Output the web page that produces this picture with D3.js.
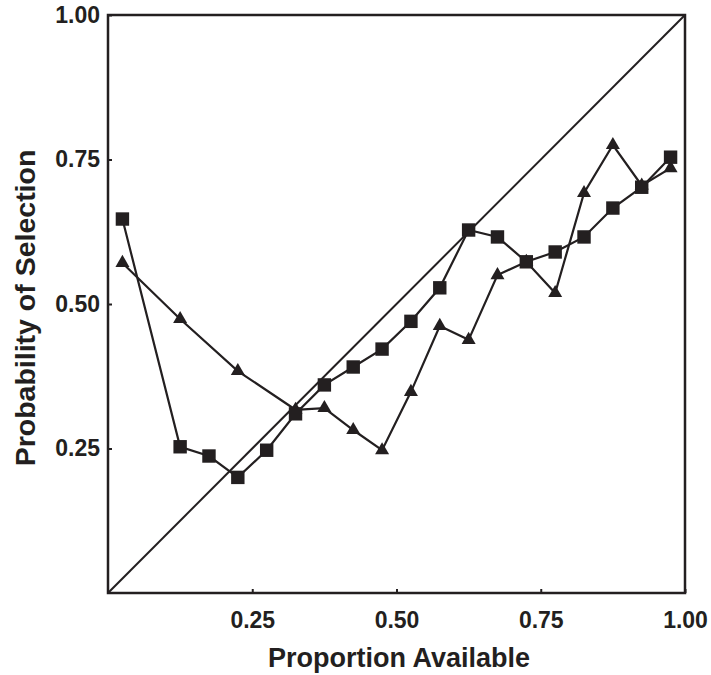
<!DOCTYPE html>
<html>
<head>
<meta charset="utf-8">
<script src="https://cdn.jsdelivr.net/npm/d3@7"></script>
<style>
  body { margin: 0; background: #fff; }
  text { font-family: "Liberation Sans", Arial, sans-serif; font-weight: bold; fill: #231f20; }
</style>
</head>
<body>
<div id="chart"></div>
<script>
// Data
const squareX = [0.025, 0.125, 0.175, 0.225, 0.275, 0.325, 0.375, 0.425, 0.475, 0.525,
                 0.575, 0.625, 0.675, 0.725, 0.775, 0.825, 0.875, 0.925, 0.975];
const squareY = [0.647, 0.253, 0.237, 0.200, 0.247, 0.310, 0.360, 0.391, 0.422, 0.470,
                 0.528, 0.628, 0.616, 0.573, 0.590, 0.616, 0.666, 0.702, 0.754];
const triX = [0.025, 0.125, 0.225, 0.325, 0.375, 0.425, 0.475, 0.525, 0.575, 0.625,
              0.675, 0.725, 0.775, 0.825, 0.875, 0.925, 0.975];
const triY = [0.571, 0.474, 0.384, 0.317, 0.320, 0.282, 0.247, 0.348, 0.462, 0.438,
              0.550, 0.573, 0.519, 0.692, 0.775, 0.705, 0.735];
const xTicks = [0.25, 0.50, 0.75, 1.00];
const yTicks = [0.25, 0.50, 0.75, 1.00];

const width = 711, height = 675;
const margin = { left: 108, right: 26, top: 15, bottom: 82 };
const ink = "#231f20";
const font = "'Liberation Sans', Arial, sans-serif";

const svg = d3.select("#chart").append("svg")
  .attr("width", width)
  .attr("height", height);

const x = d3.scaleLinear().domain([0, 1]).range([margin.left, width - margin.right]);
const y = d3.scaleLinear().domain([0, 1]).range([height - margin.bottom, margin.top]);

// frame
svg.append("rect")
  .attr("x", x(0)).attr("y", y(1))
  .attr("width", x(1) - x(0)).attr("height", y(0) - y(1))
  .attr("fill", "none").attr("stroke", ink).attr("stroke-width", 2.5);

// axes with small inward ticks
const xAxis = svg.append("g")
  .attr("transform", `translate(0,${y(0)})`)
  .call(d3.axisBottom(x).tickValues(xTicks).tickSize(-4).tickPadding(19).tickFormat(d3.format(".2f")));
xAxis.select(".domain").remove();
xAxis.selectAll("line").attr("stroke", ink).attr("stroke-width", 2);
xAxis.selectAll("text").attr("font-size", 23).attr("fill", ink)
  .style("font-family", font).style("font-weight", "bold");

const yAxis = svg.append("g")
  .attr("transform", `translate(${x(0)},0)`)
  .call(d3.axisLeft(y).tickValues(yTicks).tickSize(-4).tickPadding(8).tickFormat(d3.format(".2f")));
yAxis.select(".domain").remove();
yAxis.selectAll("line").attr("stroke", ink).attr("stroke-width", 2);
yAxis.selectAll("text").attr("font-size", 23).attr("fill", ink)
  .style("font-family", font).style("font-weight", "bold");

// 1:1 line
svg.append("line")
  .attr("x1", x(0)).attr("y1", y(0))
  .attr("x2", x(1)).attr("y2", y(1))
  .attr("stroke", ink).attr("stroke-width", 2);

const squares = squareX.map((d, i) => ({ x: d, y: squareY[i] }));
const tris = triX.map((d, i) => ({ x: d, y: triY[i] }));

const line = d3.line().x(d => x(d.x)).y(d => y(d.y));

svg.append("path").datum(tris)
  .attr("d", line).attr("fill", "none").attr("stroke", ink).attr("stroke-width", 2.2);
svg.append("path").datum(squares)
  .attr("d", line).attr("fill", "none").attr("stroke", ink).attr("stroke-width", 2.2);

svg.selectAll(".tri").data(tris).enter().append("path")
  .attr("class", "tri")
  .attr("transform", d => `translate(${x(d.x)},${y(d.y)})`)
  .attr("d", d3.symbol().type(d3.symbolTriangle).size(85))
  .attr("fill", ink);

svg.selectAll(".sq").data(squares).enter().append("path")
  .attr("class", "sq")
  .attr("transform", d => `translate(${x(d.x)},${y(d.y)})`)
  .attr("d", d3.symbol().type(d3.symbolSquare).size(180))
  .attr("fill", ink);

// axis titles
svg.append("text")
  .attr("x", 399).attr("y", 667)
  .attr("text-anchor", "middle").attr("font-size", 27)
  .text("Proportion Available");

svg.append("text")
  .attr("transform", `translate(35,308) rotate(-90)`)
  .attr("text-anchor", "middle").attr("font-size", 28.5)
  .text("Probability of Selection");
</script>
</body>
</html>
